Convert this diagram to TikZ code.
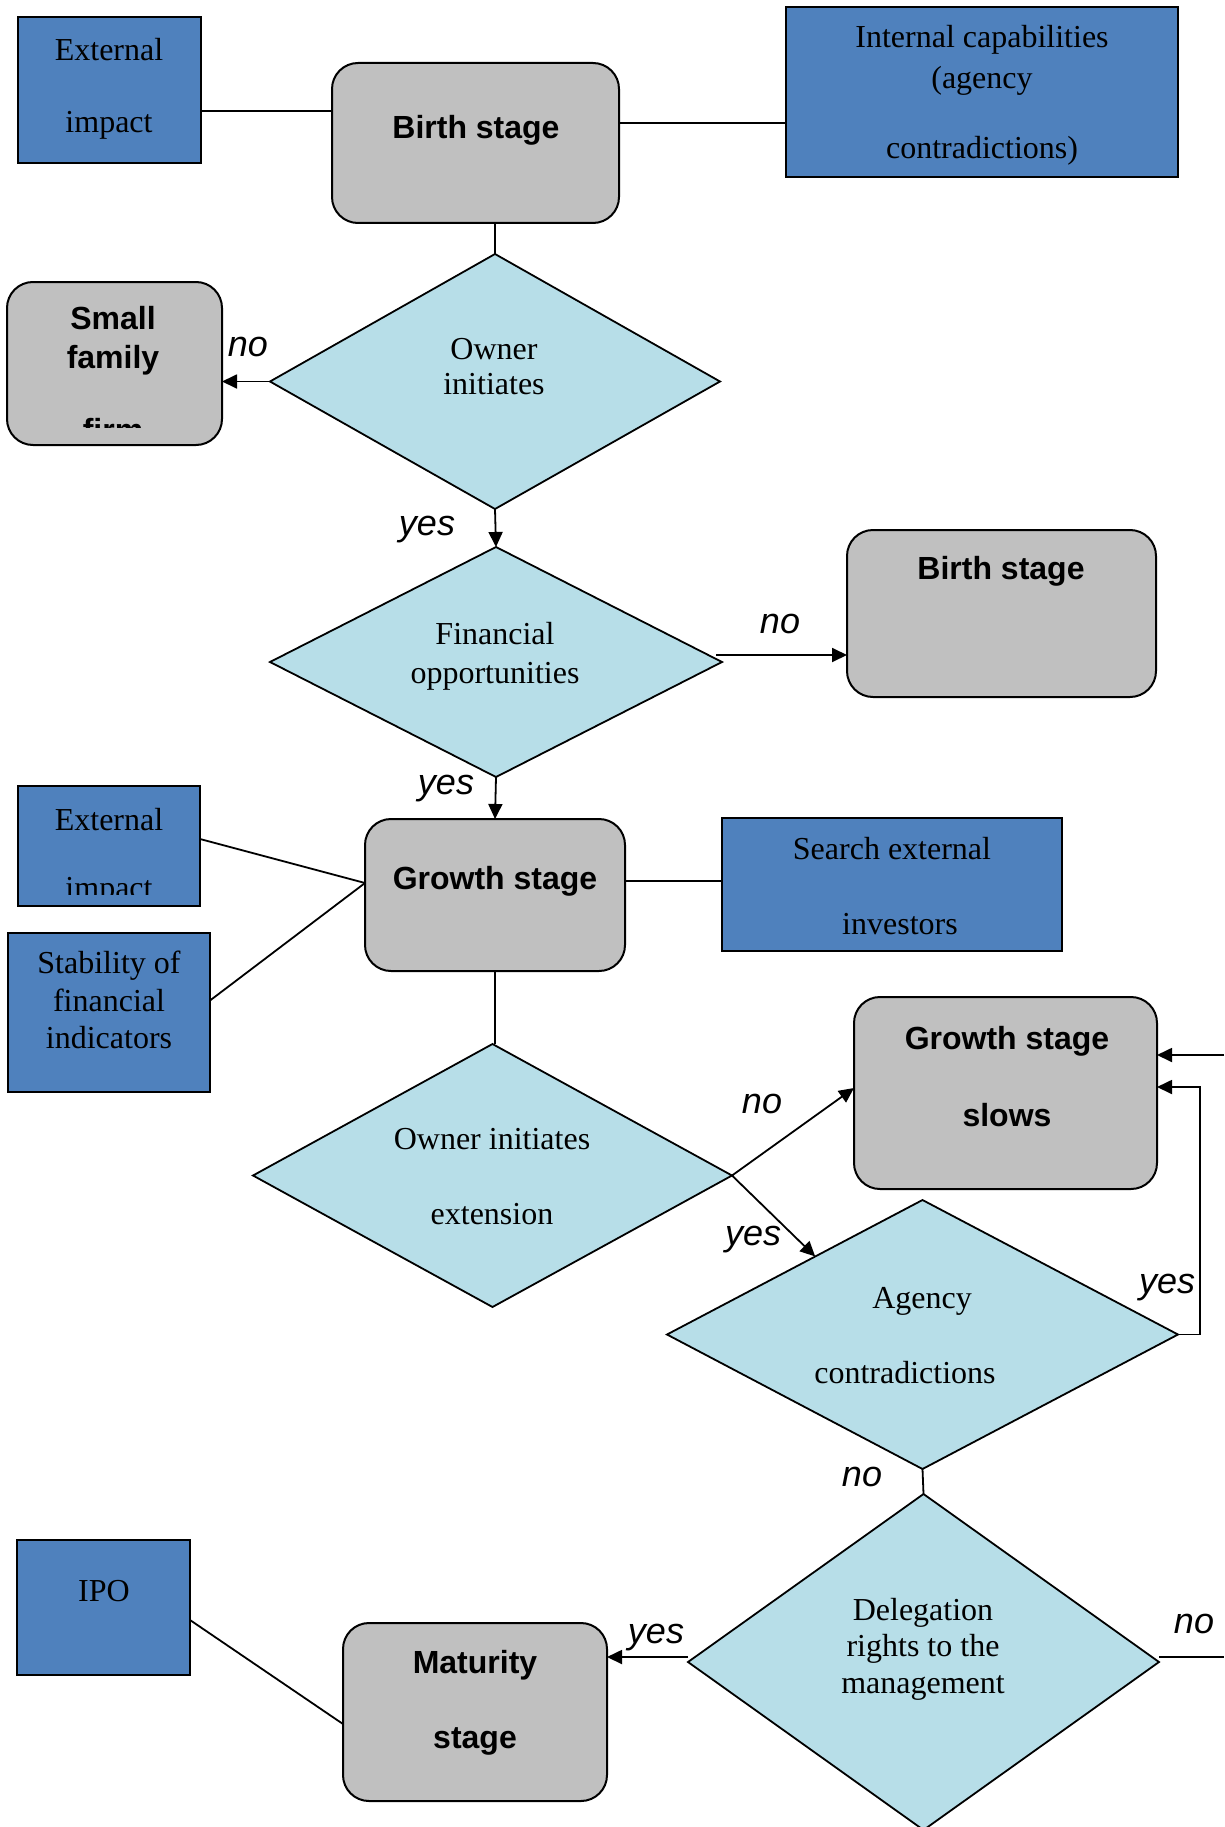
\documentclass[tikz,border=0pt]{standalone}
\usepackage{fontspec}
\setmainfont{Liberation Serif}
\setsansfont{Liberation Sans}
\usetikzlibrary{shapes.geometric,arrows.meta,calc}
\definecolor{boxblue}{HTML}{4F81BD}
\definecolor{boxgray}{HTML}{C0C0C0}
\definecolor{diafill}{HTML}{B7DEE8}
\begin{document}
\begin{tikzpicture}[x=1pt,y=-1pt,
  bluebox/.style={rectangle, draw=black, fill=boxblue, line width=2pt, inner sep=0pt, outer sep=0pt},
  graybox/.style={rectangle, rounded corners=26pt, draw=black, fill=boxgray, line width=2pt, inner sep=0pt, outer sep=0pt},
  dia/.style={diamond, draw=black, fill=diafill, line width=1.8pt, inner sep=0pt, outer sep=0pt},
  conn/.style={line width=1.8pt},
  arr/.style={conn, -{Triangle[length=15pt,width=14pt]}},
  serif/.style={font=\fontsize{32}{36}\selectfont, text height=25.5pt, text depth=3.5pt, inner sep=0pt},
  boldsans/.style={font=\fontsize{32}{36}\selectfont\sffamily\bfseries, text height=25.5pt, text depth=3.5pt, inner sep=0pt},
  lbl/.style={font=\fontsize{36}{40}\selectfont\sffamily\itshape, text height=30pt, text depth=4pt, inner sep=0pt}]
\useasboundingbox[fill=white] (0,0) rectangle (1224,1827);

% ---- boxes ----
\node[bluebox, minimum width=183pt, minimum height=146pt] (ext1) at (109.5,90) {};
\node[graybox, minimum width=287pt, minimum height=160pt] (birth1) at (475.5,143) {};
\node[bluebox, minimum width=392pt, minimum height=170pt] (internal) at (982,92) {};
\node[dia, minimum width=450pt, minimum height=255pt] (dia1) at (495,381.5) {};
\node[graybox, minimum width=215pt, minimum height=163pt] (small) at (114.5,363.5) {};
\node[dia, minimum width=452pt, minimum height=230pt] (dia2) at (496,662) {};
\node[graybox, minimum width=309pt, minimum height=167pt] (birth2) at (1001.5,613.5) {};
\node[graybox, minimum width=260pt, minimum height=152pt] (growth) at (495,895) {};
\node[bluebox, minimum width=182pt, minimum height=120pt] (ext2) at (109,846) {};
\node[bluebox, minimum width=202pt, minimum height=159pt] (stab) at (109,1012.5) {};
\node[bluebox, minimum width=340pt, minimum height=133pt] (search) at (892,884.5) {};
\node[dia, minimum width=479pt, minimum height=263pt] (dia3) at (492.5,1175.5) {};
\node[graybox, minimum width=303pt, minimum height=192pt] (slows) at (1005.5,1093) {};
\node[dia, minimum width=511pt, minimum height=269pt] (agency) at (922.5,1334.5) {};
\node[dia, minimum width=471pt, minimum height=336pt] (deleg) at (923.5,1662) {};
\node[bluebox, minimum width=173pt, minimum height=135pt] (ipo) at (103.5,1607.5) {};
\node[graybox, minimum width=264pt, minimum height=178pt] (maturity) at (475,1712) {};

% ---- texts ----
\node[serif] (ext1a) at (109,50) {External};
\node[serif] (ext1b) at (109,122) {impact};
\node[boldsans] (birth1t) at (476,128) {Birth stage};
\node[serif] (int1) at (982,37) {Internal capabilities};
\node[serif] (int2) at (982,78) {(agency};
\node[serif] (int3) at (982,148) {contradictions)};
\node[serif] (dia1a) at (494,348) {Owner};
\node[serif] (dia1b) at (494,383) {initiates};
\node[boldsans] (smalla) at (113,318) {Small};
\node[boldsans] (smallb) at (113,357) {family};
\begin{scope}
  \clip (small.north west) rectangle ([yshift=18pt]small.south east);
  \node[boldsans] (smallc) at (113,430.5) {firm};
\end{scope}
\node[serif] (dia2a) at (495,633) {Financial};
\node[serif] (dia2b) at (495,672) {opportunities};
\node[boldsans] (birth2t) at (1001,568) {Birth stage};
\node[boldsans] (growtht) at (495,878) {Growth stage};
\node[serif] (ext2a) at (109,819) {External};
\begin{scope}
  \clip (ext2.north west) rectangle ([yshift=12pt]ext2.south east);
  \node[serif] (ext2b) at (109,887.5) {impact};
\end{scope}
\node[serif] (staba) at (109,962) {Stability of};
\node[serif] (stabb) at (109,1000) {financial};
\node[serif] (stabc) at (109,1037) {indicators};
\node[serif] (searcha) at (892,848) {Search external};
\node[serif] (searchb) at (900,923) {investors};
\node[serif] (dia3a) at (492,1138) {Owner initiates};
\node[serif] (dia3b) at (492,1213) {extension};
\node[boldsans] (slowsa) at (1007,1038) {Growth stage};
\node[boldsans] (slowsb) at (1007,1115) {slows};
\node[serif] (agencya) at (922,1297) {Agency};
\node[serif] (agencyb) at (905,1372) {contradictions};
\node[serif] (dela) at (923,1609) {Delegation};
\node[serif] (delb) at (923,1645) {rights to the};
\node[serif] (delc) at (923,1682) {management};
\node[serif] (ipot) at (104,1590) {IPO};
\node[boldsans] (matura) at (475,1662) {Maturity};
\node[boldsans] (maturb) at (475,1737) {stage};

% ---- labels ----
\node[lbl] (l1) at (248,343) {no};
\node[lbl] (l2) at (427,522) {yes};
\node[lbl] (l3) at (780,620) {no};
\node[lbl] (l4) at (446,781) {yes};
\node[lbl] (l5) at (762,1100) {no};
\node[lbl] (l6) at (753,1232) {yes};
\node[lbl] (l7) at (1167,1280) {yes};
\node[lbl] (l8) at (862,1473) {no};
\node[lbl] (l9) at (656,1630) {yes};
\node[lbl] (l10) at (1194,1620) {no};

% ---- connectors ----
\coordinate (offA) at (1224,1055);
\coordinate (offB) at (1224,1657);
\coordinate (loop) at (1200,1087);

\draw[conn] ([yshift=-21pt]ext1.east) -- ([yshift=32pt]birth1.west);
\draw[conn] ([yshift=20pt]birth1.east) -- ([yshift=20pt]birth1.east -| internal.west);
\draw[conn] (birth1.south -| dia1.north) -- (dia1.north);
\draw[arr] (dia1.west) -- (dia1.west -| small.east);
\draw[arr] (dia1.south) -- (dia2.north);
\draw[arr] ([xshift=-6pt,yshift=7pt]dia2.east) -- ([yshift=7pt]dia2.east -| birth2.west);
\draw[arr] (dia2.south) -- (growth.north);
\draw[conn] ([yshift=7pt]ext2.east) -- ([yshift=12pt]growth.west);
\draw[conn] ([yshift=12pt]stab.east) -- ([yshift=12pt]growth.west);
\draw[conn] ([yshift=14pt]growth.east) -- ([yshift=14pt]growth.east -| search.west);
\draw[conn] (growth.south) -- (growth.south |- dia3.north);
\draw[arr] (dia3.east) -- ([yshift=5pt]slows.west);
\draw[arr] (dia3.east) -- ($(agency.west)!0.58!(agency.north)$);
\draw[arr] (offA) -- (offA -| slows.east);
\draw[arr] (agency.east) -| (loop) -- (loop -| slows.east);
\draw[conn] (agency.south) -- (deleg.north);
\draw[arr] ([yshift=5pt]deleg.west) -- ([yshift=5pt]deleg.west -| maturity.east);
\draw[conn] ([yshift=5pt]deleg.east) -- (offB);
\draw[conn] ([yshift=-12.5pt]ipo.east) -- ([yshift=-12pt]maturity.west);
\end{tikzpicture}
\end{document}
